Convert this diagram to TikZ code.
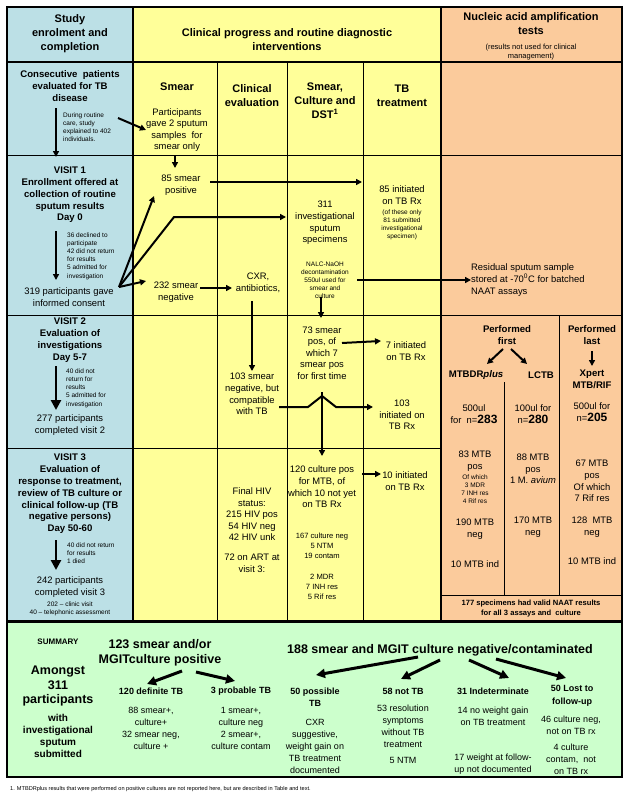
\documentclass[tikz,border=0pt]{standalone}
\usepackage{fontspec}
\setmainfont{Liberation Sans}
\usetikzlibrary{arrows.meta}
\definecolor{cblue}{HTML}{BCE0E6}
\definecolor{cyel}{HTML}{FFFF99}
\definecolor{cora}{HTML}{FBCB9C}
\definecolor{cgrn}{HTML}{CCFFCC}
\begin{document}
\begin{tikzpicture}[x=1pt,y=-1pt,
 t/.style={align=center,inner sep=0,font=\fontsize{9.4}{11.6}\selectfont},
 tl/.style={align=left,inner sep=0,anchor=west,font=\fontsize{9.4}{11.6}\selectfont},
 b/.style={align=center,inner sep=0,font=\bfseries\fontsize{9.6}{11.8}\selectfont},
 hb/.style={align=center,inner sep=0,font=\bfseries\fontsize{11}{14}\selectfont},
 gb/.style={align=center,inner sep=0,font=\bfseries\fontsize{12.5}{15.5}\selectfont},
 gs/.style={align=center,inner sep=0,font=\fontsize{9}{12}\selectfont},
 gh/.style={align=center,inner sep=0,font=\bfseries\fontsize{9}{12.5}\selectfont},
 s/.style={align=center,inner sep=0,font=\fontsize{6.5}{8}\selectfont},
 sl/.style={align=left,inner sep=0,anchor=west,font=\fontsize{6.5}{8.2}\selectfont},
 ar/.style={-{Triangle[length=6pt,width=6pt]},line width=2pt},
 thin/.style={line width=0.6pt},
 thick/.style={line width=2.2pt}]
\useasboundingbox (0,0) rectangle (629,800);
% backgrounds
\fill[cblue] (7,7) rectangle (133,621);
\fill[cyel] (133,7) rectangle (441,621);
\fill[cora] (441,7) rectangle (622,621);
\fill[cgrn] (7,622) rectangle (622,777);
% grid lines
\draw[thin] (7,155)--(441,155) (7,315)--(622,315) (7,448)--(441,448);
\draw[thin] (441,155)--(622,155);
\draw[thin] (217,62)--(217,621) (287,62)--(287,621) (363,62)--(363,621);
\draw[thin] (504,382)--(504,595) (559,315)--(559,595) (441,595)--(622,595);
\draw[thick] (7,62)--(622,62) (133,7)--(133,621) (441,7)--(441,621);
\draw[thick] (7,7) rectangle (622,621);
\draw[thick] (7,622) rectangle (622,777);
% header
\node[hb] (h1) at (70,34) {Study\\enrolment and\\completion};
\node[hb] (h2) at (287,40) {Clinical progress and routine diagnostic\\interventions};
\node[hb] (h3) at (531,24) {Nucleic acid amplification\\tests};
\node[s,font=\fontsize{7.5}{8.5}\selectfont] (h3b) at (531,52) {(results not used for clinical\\management)};
% row 1
\node[b] (cons) at (70,86) {Consecutive\ \ patients\\evaluated for TB\\disease};
\node[sl] (dur) at (63,127) {During routine\\care, study\\explained to 402\\individuals.};
\node[hb] (smh) at (177,87) {Smear};
\node[hb] (clh) at (252,96) {Clinical\\evaluation};
\node[hb] (sch) at (325,101) {Smear,\\Culture and\\DST\textsuperscript{1}};
\node[hb] (tbh) at (402,96) {TB\\treatment};
\node[t] (part) at (177,130) {Participants\\gave 2 sputum\\samples\ \ for\\smear only};
\coordinate (a0) at (56,108); \coordinate (a1) at (56,157);
\draw[ar] (a0)--(a1);
\draw[ar] (118,118)--(part.west);
% visit 1
\node[b] (v1) at (70,195) {VISIT 1\\Enrollment offered at\\collection of routine\\sputum results\\Day 0};
\node[sl] (dec) at (67,256) {36 declined to\\participate\\42 did not return\\for results\\5 admitted for\\investigation};
\draw[ar] (56,231)--(56,280);
\node[t] (cons319) at (69,297) {319 participants gave\\informed consent};
\coordinate (fan) at (119,287);
\node[t] (sp85) at (181,185) {85 smear\\positive};
\node[t] (sn232) at (176,292) {232 smear\\negative};
\node[t] (inv) at (325,223) {311\\investigational\\sputum\\specimens};
\node[s] (nalc) at (325,280) {NALC-NaOH\\decontamination\\550ul used for\\smear and\\culture};
\node[t] (ini85) at (402,195) {85 initiated\\on TB Rx};
\node[s] (ini85b) at (402,225) {(of these only\\81 submitted\\investigational\\specimen)};
\node[t] (cxr) at (258,283) {CXR,\\antibiotics,};
\node[tl] (resid) at (471,280) {Residual sputum sample\\stored at -70\textsuperscript{0}C for batched\\NAAT assays};
\draw[ar] (175,155)--(175,168);
\draw[ar] (fan)--(154,196);
\draw[ar] (fan)--(174,217)--(286,217);
\draw[ar] (fan)--(146,281);
\draw[ar] (210,182)--(362,182);
\draw[ar] (200,288)--(232,288);
\draw[ar] (357,280)--(resid.west);
\draw[ar] (252,301)--(252,371);
\draw[ar] (321,297)--(321,318);
% visit 2
\node[b] (v2) at (70,340) {VISIT 2\\Evaluation of\\investigations\\Day 5-7};
\draw[ar,line width=2.8pt,-{Triangle[length=10pt,width=10pt]}] (56,366)--(56,410);
\node[sl] (d40) at (66,388) {40 did not\\return for\\results\\5 admitted for\\investigation};
\node[t] (c277) at (70,425) {277 participants\\completed visit 2};
\node[t] (neg103) at (252,394) {103 smear\\negative, but\\compatible\\with TB};
\node[t] (sp73) at (322,353) {73 smear\\pos, of\\which 7\\smear pos\\for first time};
\node[t] (ini7) at (406,351) {7 initiated\\on TB Rx};
\draw[ar] (342,343)--(381,341);
\draw[ar] (neg103.east |- 0,407)--(308,407)--(322,396)--(336,407)--(373,407);
\node[t] (ini103) at (402,415) {103\\initiated on\\TB Rx};
\draw[ar] (322,392)--(322,456);
\node[b] (pf) at (507,335) {Performed\\first};
\node[b] (pl) at (592,335) {Performed\\last};
\node[b] (mtb) at (476,375) {MTBDR\textit{plus}};
\node[b] (lctb) at (541,375) {LCTB};
\node[b] (xp) at (592,379) {Xpert\\MTB/RIF};
\draw[ar] (503,349)--(487,364);
\draw[ar] (511,349)--(527,364);
\draw[ar] (592,351)--(592,366);
\node[t] (n283) at (474,414) {500ul\\for\ \ n=\textbf{\large 283}};
\node[t] (n280) at (533,414) {100ul for\\n=\textbf{\large 280}};
\node[t] (n205) at (592,412) {500ul for\\n=\textbf{\large 205}};
% visit 3
\node[b] (v3) at (70,494) {VISIT 3\\Evaluation of\\response to treatment,\\review of TB culture or\\clinical follow-up (TB\\negative persons)\\Day 50-60};
\draw[ar,line width=2.8pt,-{Triangle[length=10pt,width=10pt]}] (56,540)--(56,570);
\node[sl] (d40b) at (67,553) {40 did not return\\for results\\1 died};
\node[t] (c242) at (70,587) {242 participants\\completed visit 3};
\node[s] (c202) at (70,609) {202 -- clinic visit\\40 -- telephonic assessment};
\node[t] (hiv) at (252,530) {Final HIV\\status:\\215 HIV pos\\54 HIV neg\\42 HIV unk\\[8pt]72 on ART at\\visit 3:};
\node[t] (cp120) at (322,487) {120 culture pos\\for MTB, of\\which 10 not yet\\on TB Rx};
\node[t] (ini10) at (405,481) {10 initiated\\on TB Rx};
\draw[ar] (362,474)--(381,474);
\node[t,font=\fontsize{7.6}{10.2}\selectfont] (cneg) at (322,546) {167 culture neg\\5 NTM\\19 contam};
\node[t,font=\fontsize{7.6}{10.2}\selectfont] (mdr) at (322,587) {2 MDR\\7 INH res\\5 Rif res};
\node[t] (p83) at (475,461) {83 MTB\\pos};
\node[s] (p83b) at (475,489) {Of which\\3 MDR\\7 INH res\\4 Rif res};
\node[t] (p88) at (533,469) {88 MTB\\pos\\1 M. \textit{avium}};
\node[t] (p67) at (592,481) {67 MTB\\pos\\Of which\\7 Rif res};
\node[t] (n190) at (475,529) {190 MTB\\neg};
\node[t] (n170) at (533,527) {170 MTB\\neg};
\node[t] (n128) at (592,527) {128\ \ MTB\\neg};
\node[t] (i10a) at (475,564) {10 MTB ind};
\node[t] (i10b) at (592,561) {10 MTB ind};
\node[b,font=\bfseries\fontsize{7.6}{10}\selectfont] (s177) at (531,609) {177 specimens had valid NAAT results\\for all 3 assays and\ \ culture};
% summary
\node[b,font=\bfseries\fontsize{8}{9}\selectfont] (sum) at (58,642) {SUMMARY};
\node[gb,font=\bfseries\fontsize{12.5}{14.5}\selectfont] (am) at (58,686) {Amongst\\311\\participants};
\node[b,font=\bfseries\fontsize{10}{12}\selectfont] (with) at (58,736) {with\\investigational\\sputum\\submitted};
\node[gb] (g123) at (160,653) {123 smear and/or\\MGITculture positive};
\node[gb] (g188) at (440,650) {188 smear and MGIT culture negative/contaminated};
\node[gh] (d120) at (151,691) {120 definite TB};
\node[gh] (d3) at (241,691) {3 probable TB};
\node[gh] (d50) at (315,697) {50 possible\\TB};
\node[gh] (d58) at (403,691) {58 not TB};
\node[gh] (d31) at (493,691) {31 Indeterminate};
\node[gh] (d50l) at (572,696) {50 Lost to\\follow-up};
\draw[ar,line width=3pt,-{Triangle[length=9pt,width=9pt]}] (182,671)--(147,684);
\draw[ar,line width=3pt,-{Triangle[length=9pt,width=9pt]}] (196,672)--(235,681);
\draw[ar,line width=3pt,-{Triangle[length=9pt,width=9pt]}] (418,657)--(316,675);
\draw[ar,line width=3pt,-{Triangle[length=9pt,width=9pt]}] (440,660)--(401,679);
\draw[ar,line width=3pt,-{Triangle[length=9pt,width=9pt]}] (469,660)--(509,678);
\draw[ar,line width=3pt,-{Triangle[length=9pt,width=9pt]}] (496,659)--(566,678);
\node[gs] (t120) at (151,728) {88 smear+,\\culture+\\32 smear neg,\\culture +};
\node[gs] (t3) at (241,728) {1 smear+,\\culture neg\\2 smear+,\\culture contam};
\node[gs] (t50) at (315,746) {CXR\\suggestive,\\weight gain on\\TB treatment\\documented};
\node[gs] (t58) at (403,734) {53 resolution\\symptoms\\without TB\\treatment\\[4pt]5 NTM};
\node[gs] (t31a) at (493,716) {14 no weight gain\\on TB treatment};
\node[gs] (t31b) at (493,764) {17 weight at follow-\\up not documented};
\node[gs] (t50a) at (571,725) {46 culture neg,\\not on TB rx};
\node[gs] (t50b) at (571,759) {4 culture\\contam,\ \ not\\on TB rx};
\node[sl,font=\fontsize{5.6}{6}\selectfont] (fn) at (10,789) {1. MTBDRplus results that were performed on positive cultures are not reported here, but are described in Table and text.};
\end{tikzpicture}
\end{document}
